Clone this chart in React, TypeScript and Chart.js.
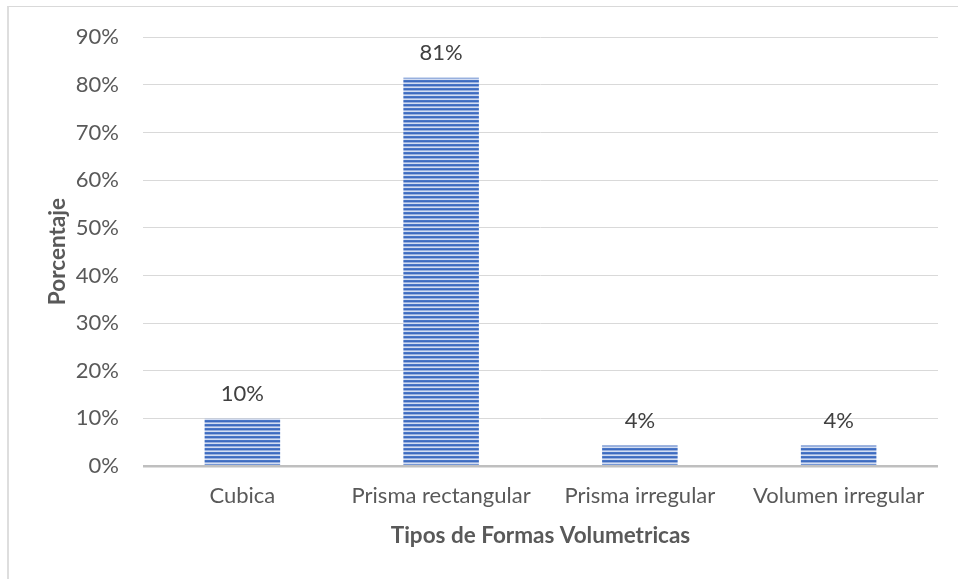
import React, { useEffect, useRef } from "react";
import { Chart, registerables } from "chart.js";

Chart.register(...registerables);

const categories = ["Cubica", "Prisma rectangular", "Prisma irregular", "Volumen irregular"];
const values = [9.9, 81.5, 4.3, 4.3];
const valueLabels = ["10%", "81%", "4%", "4%"];
const yMin = 0;
const yMax = 90;
const yStep = 10;
const xTitle = "Tipos de Formas Volumetricas";
const yTitle = "Porcentaje";

const FONT = "Lato, 'Liberation Sans', sans-serif";

function makePattern(): CanvasPattern | string {
  const c = document.createElement("canvas");
  c.width = 4;
  c.height = 4;
  const g = c.getContext("2d");
  if (!g) return "#4472C4";
  const rows = ["#4875c6", "#3e6bbf", "#98b0de", "#d3ddf2"];
  rows.forEach((col, i) => {
    g.fillStyle = col;
    g.fillRect(0, i, 4, 1);
  });
  const p = g.createPattern(c, "repeat");
  return p || "#4472C4";
}

const labelPlugin = {
  id: "valueLabels",
  afterDatasetsDraw(chart: any) {
    const ctx = chart.ctx;
    const meta = chart.getDatasetMeta(0);
    ctx.save();
    ctx.font = `22px ${FONT}`;
    ctx.fillStyle = "#404040";
    ctx.textAlign = "center";
    ctx.textBaseline = "middle";
    meta.data.forEach((bar: any, i: number) => {
      ctx.fillText(valueLabels[i], bar.x, bar.y - 25);
    });
    ctx.restore();
  },
};

export default function App() {
  const ref = useRef<HTMLCanvasElement | null>(null);

  useEffect(() => {
    if (!ref.current) return;
    const chart = new Chart(ref.current, {
      type: "bar",
      data: {
        labels: categories,
        datasets: [
          {
            data: values,
            backgroundColor: makePattern() as any,
            borderWidth: 0,
            categoryPercentage: 1,
            barPercentage: 0.38,
          },
        ],
      },
      plugins: [labelPlugin],
      options: {
        responsive: false,
        animation: false,
        events: [],
        layout: { padding: { top: 36, right: 20, left: 0, bottom: 0 } },
        plugins: {
          legend: { display: false },
          tooltip: { enabled: false },
        },
        scales: {
          x: {
            afterFit: (s: any) => {
              s.height = 113;
            },
            grid: { display: false, drawTicks: false },
            border: { display: false },
            ticks: {
              color: "#595959",
              font: { family: FONT, size: 22 },
              padding: 17,
              maxRotation: 0,
            },
            title: {
              display: true,
              text: xTitle,
              color: "#595959",
              font: { family: FONT, size: 22.5, weight: "bold" },
              padding: { top: 0, bottom: 30 },
            },
          },
          y: {
            min: yMin,
            max: yMax,
            afterFit: (s: any) => {
              s.width = 143;
            },
            ticks: {
              stepSize: yStep,
              color: "#595959",
              font: { family: FONT, size: 22 },
              padding: 24,
              callback: (v: any) => `${v}%`,
            },
            grid: {
              drawTicks: false,
              color: (c: any) => (c.tick && c.tick.value === 0 ? "#bfbfbf" : "#d9d9d9"),
              lineWidth: (c: any) => (c.tick && c.tick.value === 0 ? 2.5 : 1),
            },
            border: { display: false },
            title: {
              display: true,
              text: yTitle,
              color: "#595959",
              font: { family: FONT, size: 22.5, weight: "bold" },
              padding: { top: 44, bottom: 0 },
            },
          },
        },
      },
    });
    return () => chart.destroy();
  }, []);

  return (
    <div style={{ position: "fixed", left: 0, top: 0, width: 958, height: 579, background: "#fff", overflow: "hidden" }}>
      <div
        style={{
          position: "absolute",
          left: 7,
          top: 6,
          width: 960,
          height: 600,
          borderLeft: "2px solid #dedede",
          borderTop: "1px solid #d9d9d9",
        }}
      />
      <canvas ref={ref} width={958} height={579} style={{ position: "absolute", left: 0, top: 0 }} />
    </div>
  );
}
